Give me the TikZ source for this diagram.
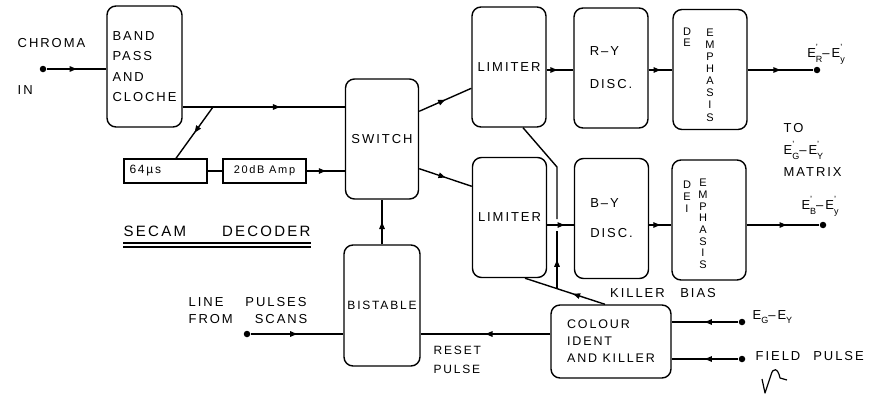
\documentclass[tikz,border=0pt]{standalone}
\usepackage{fontspec}
\setmainfont{Liberation Sans}[LetterSpace=15]
\usetikzlibrary{arrows.meta,positioning,calc,decorations.markings}

% signal name: E with prime above and index below
\newcommand{\sg}[2]{E\makebox[0pt][l]{\raisebox{0.55em}{\fontsize{9}{9}\selectfont#1}}\raisebox{-0.35em}{\fontsize{9}{9}\selectfont#2}}

\begin{document}
\begin{tikzpicture}[x=1pt,y=-1pt, line width=1.4pt, font=\fontsize{13}{15}\selectfont,
  blk/.style={draw,rounded corners=9pt,minimum width=74pt,minimum height=120pt,inner sep=1pt,align=left},
  sq/.style={draw,minimum width=83pt,minimum height=24pt,inner sep=2pt},
  arr/.style={decoration={markings,mark=at position #1 with {\arrow{Triangle[length=7pt,width=5.5pt]}}},postaction={decorate}},
  arr/.default=0.5,
  dot/.style={circle,fill,inner sep=0pt,minimum size=6.5pt},
  lbl/.style={inner sep=0pt,align=left}]
\useasboundingbox (0,0) rectangle (882,399);

% blocks
\node[blk,minimum width=75pt,minimum height=121pt,font=\fontsize{13}{20.5}\selectfont] (band) at (144.5,66.5) {BAND\\PASS\\AND\\CLOCHE};
\node[sq,text width=72pt,font=\fontsize{12}{14}\selectfont] (dly) at (165.5,171) {64µs};
\node[sq,font=\fontsize{11}{13}\selectfont] (amp) at (264.5,171) {20dB Amp};
\node[blk,minimum width=73pt] (sw) at (382,139) {SWITCH};
\node[blk] (lim1) at (509,67) {LIMITER};
\node[blk] (lim2) at (509.5,217.5) {LIMITER};
\node[blk,font=\fontsize{13}{33}\selectfont] (ry) at (611,68) {R--Y\\DISC.};
\node[blk,font=\fontsize{13}{30}\selectfont] (by) at (611.5,218.5) {B--Y\\DISC.};
\node[blk] (de1) at (710,69.5) {};
\node[blk] (de2) at (709,220) {};
\node[blk,minimum width=76pt,minimum height=121pt,font=\fontsize{12}{14}\selectfont] (bist) at (382,305.5) {BISTABLE};
\node[blk,minimum width=120pt,minimum height=73pt,font=\fontsize{12.5}{17}\selectfont] (ident) at (611,341.5) {COLOUR\\IDENT\\AND KILLER};

% de-emphasis lettering
\node[lbl,align=center,font=\fontsize{11}{10.5}\selectfont] (de1d) at (687,37) {D\\E};
\node[lbl,align=center,font=\fontsize{11}{12.1}\selectfont] (de1e) at (710,75) {E\\M\\P\\H\\A\\S\\I\\S};
\node[lbl,align=center,font=\fontsize{11}{12}\selectfont] (de2d) at (687,197) {D\\E\\I};
\node[lbl,align=center,font=\fontsize{11}{11.7}\selectfont] (de2e) at (703,224) {E\\M\\P\\H\\A\\S\\I\\S};

% terminals
\node[dot] (cin) at (43,69) {};
\node[dot] (rout) at (817,70) {};
\node[dot] (bout) at (823,225) {};
\node[dot] (lin) at (247,334) {};
\node[dot] (egin) at (742,322) {};
\node[dot] (fpin) at (742,359) {};

% levels
\coordinate (yB) at (0,107);
\coordinate (yR) at (0,70);
\coordinate (yBY) at (0,225);
\coordinate (br) at (213,107);
\coordinate (kb) at (0,167);

\draw[arr] (cin) -- (band.west |- cin);
\draw[arr=.6] (band.east |- yB) -- (sw.west |- yB);
\draw[arr] (br) -- ([xshift=10.5pt]dly.north);
\draw (dly) -- (amp);
\draw[arr] (amp) -- (sw.west |- amp);
\draw[arr] ([yshift=-33pt]sw.north east) -- ([yshift=-82pt]lim1.north west);
\draw[arr] ([yshift=31pt]sw.south east) -- ([yshift=-29.5pt]lim2.north west);
\draw[arr=.4] (lim1.east |- yR) -- (ry.west |- yR);
\draw[arr] (ry.east |- yR) -- (de1.west |- yR);
\draw[arr] (de1.east |- rout) -- (rout);
\draw[arr=.65] (lim2.east |- yBY) -- (by.west |- yBY);
\draw[arr] (by.east |- yBY) -- (de2.west |- yBY);
\draw[arr=.55] (de2.east |- bout) -- (bout);

% killer bias
\coordinate (kt) at ([xshift=-6pt]ident.north);
\coordinate (kl) at ([xshift=15.5pt]lim2.south);
\coordinate (kj) at ($(kt)!.6!(kl)$);
\draw[arr=.4] (kt) -- (kl);
\draw[arr] (kj) -- ([yshift=-6pt]kj |- yBY);
\draw ([yshift=6pt]kj |- yBY) -- (kj |- kb) -- ([xshift=14pt]lim1.south);

\draw[arr] (bist.north) -- (sw.south);
\draw[arr] (lin) -- (bist.west |- lin);
\draw[arr] (ident.west |- lin) -- (bist.east |- lin);
\draw[arr] (egin) -- (ident.east |- egin);
\draw[arr] (fpin) -- (ident.east |- fpin);

% labels
\node[lbl,anchor=west] (chr) at (17,43) {CHROMA};
\node[lbl,anchor=west] (inl) at (17,90) {IN};
\node[lbl] (rlab) at (826,54) {\sg{'}{R}--\sg{'}{y}};
\node[lbl,anchor=west,font=\fontsize{13}{22}\selectfont] (mtx) at (783,150) {TO\\\sg{'}{G}--\sg{'}{Y}\\MATRIX};
\node[lbl] (blab) at (820,206) {\sg{'}{B}--\sg{'}{y}};
\node[lbl] (kbias) at (663,293) {KILLER\hspace{1.2em}BIAS};
\node[lbl,anchor=west] (eglab) at (752,317) {\sg{}{G}--\sg{}{Y}};
\node[lbl,anchor=west] (fplab) at (755,356) {FIELD\hspace{1em}PULSE};
\node[lbl,anchor=west,font=\fontsize{12}{19}\selectfont] (rst) at (433,360) {RESET\\PULSE};
\node[lbl,anchor=west,font=\fontsize{13}{17}\selectfont] (lpl) at (188,311) {LINE\hspace{22pt}PULSES\\FROM\hspace{22pt}SCANS};
\node[lbl,anchor=west,font=\fontsize{15}{17}\selectfont] (ttl) at (123,231) {SECAM\hspace{2.4em}DECODER};
\draw[line width=1.1pt] ([yshift=-6pt]ttl.south west) -- ([yshift=-6pt]ttl.south east);
\draw[line width=1.1pt] ([yshift=-10pt]ttl.south west) -- ([yshift=-10pt]ttl.south east);

% field pulse sketch
\draw[line width=1.2pt,line join=round] (762,379) -- (765,393) -- (771,375) .. controls (773,367) and (778,368) .. (780,378) -- (787,380);
\end{tikzpicture}
\end{document}
